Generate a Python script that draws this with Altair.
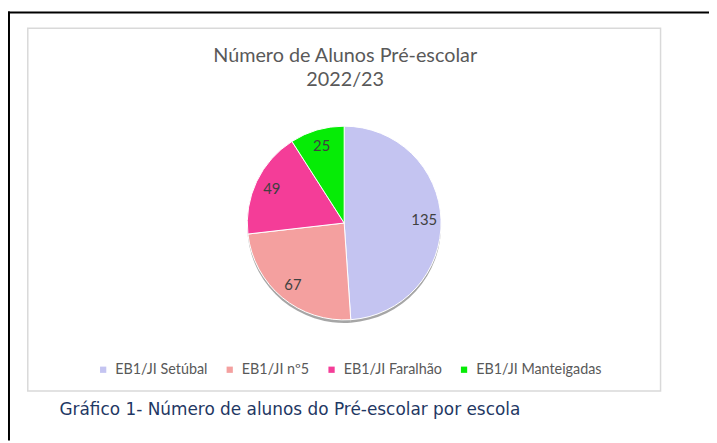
import altair as alt
import pandas as pd

# ---- data ----
schools = ["EB1/JI Setúbal", "EB1/JI nº5", "EB1/JI Faralhão", "EB1/JI Manteigadas"]
students = [135, 67, 49, 25]
colors = ["#C4C4F1", "#F4A09F", "#F43D98", "#06EC06"]
title_lines = ["Número de Alunos Pré-escolar", "2022/23"]
caption = "Gráfico 1- Número de alunos do Pré-escolar por escola"

df = pd.DataFrame({"Escola": schools, "Alunos": students, "ordem": list(range(len(schools)))})
one = pd.DataFrame({"k": [0]})

W, H = 709, 435
CX, CY, R = 340, 215, 98

outer_top = alt.Chart(one).mark_rule(color="black", strokeWidth=2).encode(
    x=alt.value(0), x2=alt.value(W), y=alt.value(2))
outer_left = alt.Chart(one).mark_rule(color="black", strokeWidth=2).encode(
    x=alt.value(1), y=alt.value(1), y2=alt.value(H))
inner_box = alt.Chart(one).mark_rect(fill="white", stroke="#D9D9D9", strokeWidth=1.5).encode(
    x=alt.value(20), x2=alt.value(660), y=alt.value(18), y2=alt.value(385))

title1 = alt.Chart(one).mark_text(text=title_lines[0], font="Lato", fontSize=20, color="#595959",
                                  align="center", baseline="middle").encode(x=alt.value(341), y=alt.value(46))
title2 = alt.Chart(one).mark_text(text=title_lines[1], font="Lato", fontSize=20, color="#595959",
                                  align="center", baseline="middle").encode(x=alt.value(341), y=alt.value(70))

shadow = alt.Chart(df).mark_arc(outerRadius=R, x=CX, y=CY + 3, color="#3a3a3a", opacity=0.45).encode(
    theta=alt.Theta("Alunos:Q", stack=True), order=alt.Order("ordem:Q"))

pie = alt.Chart(df).mark_arc(outerRadius=R, x=CX, y=CY, stroke="white", strokeWidth=1).encode(
    theta=alt.Theta("Alunos:Q", stack=True),
    order=alt.Order("ordem:Q"),
    color=alt.Color("Escola:N", sort=schools,
                    scale=alt.Scale(domain=schools, range=colors),
                    legend=alt.Legend(title=None, orient="none", legendX=89, legendY=356,
                                      direction="horizontal", symbolType="square", symbolSize=40,
                                      symbolStrokeWidth=0, labelFont="Lato", labelFontSize=14.5,
                                      labelColor="#595959", columnPadding=15, labelOffset=5)))

labels = alt.Chart(df).mark_text(radius=81, x=CX, y=CY, font="Lato", fontSize=15, color="#404040").encode(
    theta=alt.Theta("Alunos:Q", stack=True),
    order=alt.Order("ordem:Q"),
    text=alt.Text("Alunos:Q"))

cap = alt.Chart(one).mark_text(text=caption, font="DejaVu Sans", fontSize=17.1, color="#1F3864",
                               align="left", baseline="middle").encode(x=alt.value(52), y=alt.value(404))

chart = alt.layer(outer_top, outer_left, inner_box, title1, title2, shadow, pie, labels, cap).properties(
    width=W, height=H, autosize=alt.AutoSizeParams(type="none"), padding=0, background="white"
).configure_view(stroke=None)

chart.save("out.html", embed_options={"renderer": "svg", "actions": False})
